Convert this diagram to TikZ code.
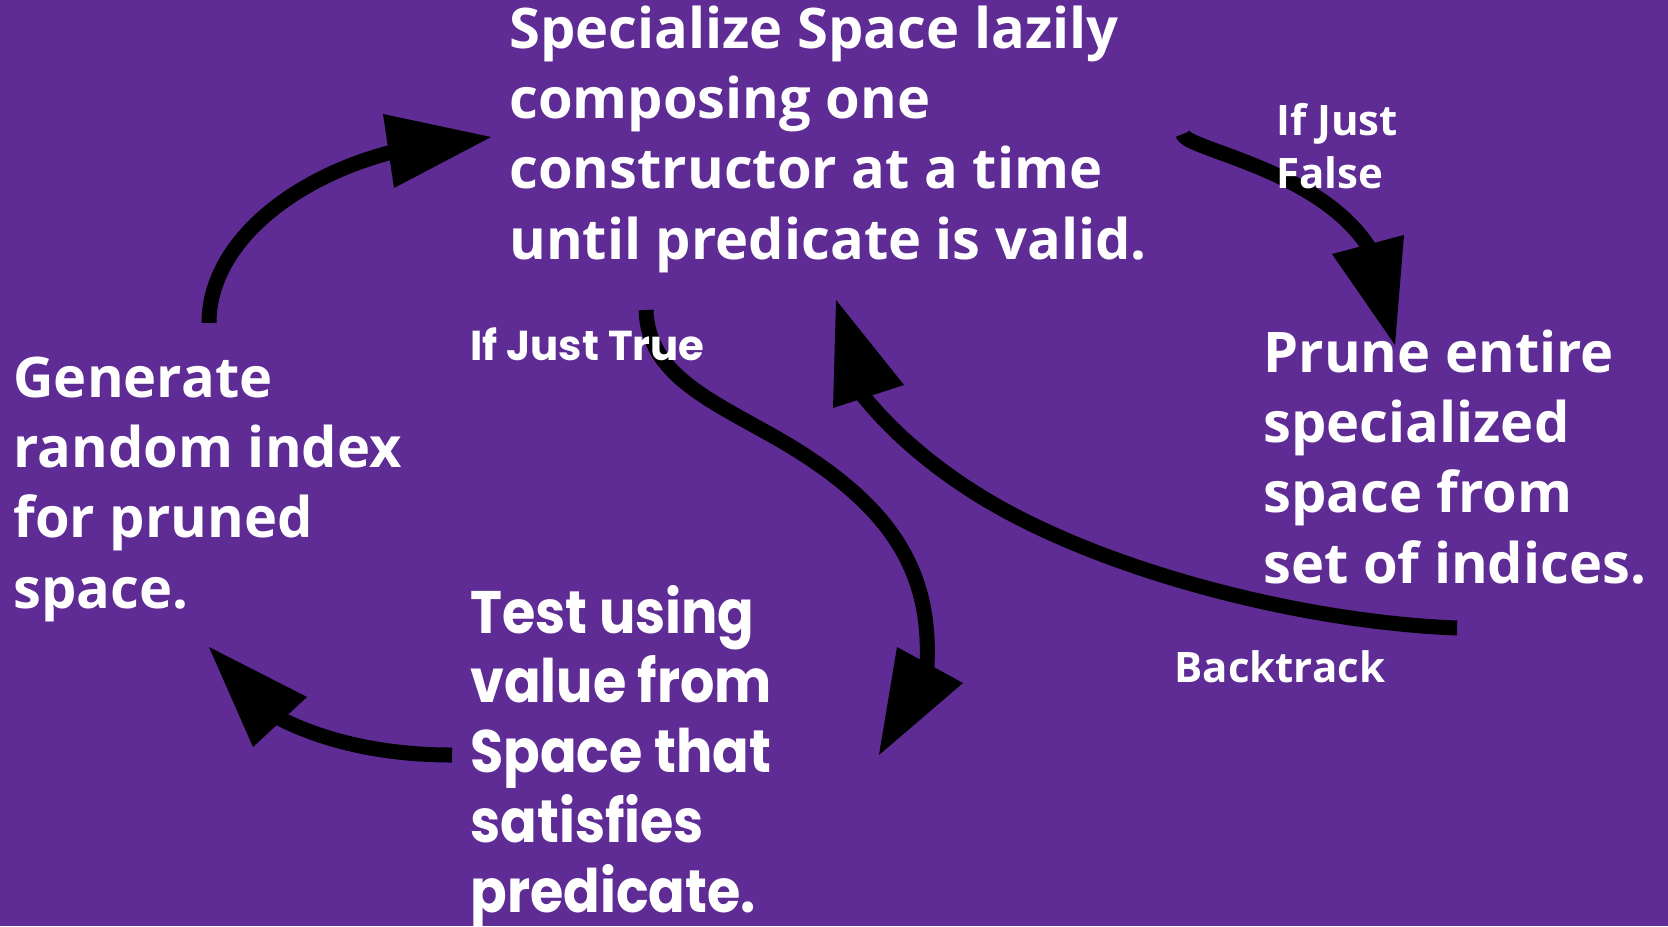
\documentclass[tikz,border=0pt]{standalone}
\usepackage{fontspec}
\setmainfont{Open Sans}
\newfontfamily\popfont[FakeStretch=0.9]{Poppins}
\newfontfamily\poplblfont{Poppins}
\definecolor{bgpurple}{RGB}{94,44,148}
\tikzset{
  shaft/.style={line width=7.5pt, draw=black, line cap=butt},
  headtri/.style={fill=black},
  bigtxt/.style={anchor=base west, inner sep=0pt, text=white, font=\bfseries\fontsize{28}{35.2}\selectfont},
  testtxt/.style={anchor=base west, inner sep=0pt, text=white, font=\popfont\bfseries\fontsize{30}{34.9}\selectfont},
  lbltxt/.style={anchor=base west, inner sep=0pt, text=white, font=\bfseries\fontsize{21}{26.5}\selectfont},
  poplbl/.style={anchor=base west, inner sep=0pt, text=white, font=\poplblfont\bfseries\fontsize{20.9}{26.5}\selectfont}
}
\begin{document}
\begin{tikzpicture}[x=0.5pt,y=-0.5pt]
\fill[bgpurple] (0,0) rectangle (1668,926);
\useasboundingbox (0,0) rectangle (1668,926);

% arrow: generate -> specialize
\coordinate (a1s) at (209,323);
\coordinate (a1e) at (405,149);
\draw[shaft] (a1s) .. controls (209,240) and (300,172) .. (a1e);
\fill[headtri] (383,114) -- (491,137) -- (394,188) -- cycle;

% arrow: specialize -> prune (If Just False)
\coordinate (a2s) at (1183,134);
\coordinate (a2e) at (1375,258);
\draw[shaft] (a2s) .. controls (1185,150) and (1330,170) .. (a2e);
\fill[headtri] (1332,254) -- (1404,235) -- (1395,345) -- cycle;

% arrow: specialize -> test (If Just True)
\coordinate (a3s) at (646,310);
\coordinate (a3m) at (780,440);
\coordinate (a3e) at (926,680);
\draw[shaft] (a3s) .. controls (648,375) and (710,400) .. (a3m)
                   .. controls (900,510) and (935,580) .. (a3e);
\fill[headtri] (897,647) -- (963,683) -- (879,755) -- cycle;

% arrow: prune -> specialize (Backtrack)
\coordinate (a4s) at (1457,628);
\coordinate (a4m) at (980,496);
\coordinate (a4e) at (860,392);
\draw[shaft] (a4s) .. controls (1300,622) and (1100,570) .. (a4m)
                   .. controls (930,465) and (890,430) .. (a4e);
\fill[headtri] (836,300) -- (904,385) -- (833,408) -- cycle;

% arrow: test -> generate
\coordinate (a5s) at (452,755);
\coordinate (a5e) at (275,716);
\draw[shaft] (a5s) .. controls (380,755) and (320,740) .. (a5e);
\fill[headtri] (209,647) -- (307,697) -- (253,747) -- cycle;

% texts
\node[bigtxt] (spec) at (509,48) {\begin{tabular}[t]{@{}l@{}}Specialize Space lazily\\composing one\\constructor at a time\\until predicate is valid.\end{tabular}};
\node[bigtxt] (gen) at (13,397) {\begin{tabular}[t]{@{}l@{}}Generate\\random index\\for pruned\\space.\end{tabular}};
\node[bigtxt] (prune) at (1263,372) {\begin{tabular}[t]{@{}l@{}}Prune entire\\specialized\\space from\\set of indices.\end{tabular}};
\node[testtxt] (test) at (470,633) {\begin{tabular}[t]{@{}l@{}}Test using\\value from\\Space that\\satisfies\\predicate.\end{tabular}};
\node[lbltxt] (lfalse) at (1276,135) {\begin{tabular}[t]{@{}l@{}}If Just\\False\end{tabular}};
\node[lbltxt] (back) at (1174,682) {Backtrack};
\node[poplbl] (ltrue) at (470,360) {If Just True};
\end{tikzpicture}
\end{document}
